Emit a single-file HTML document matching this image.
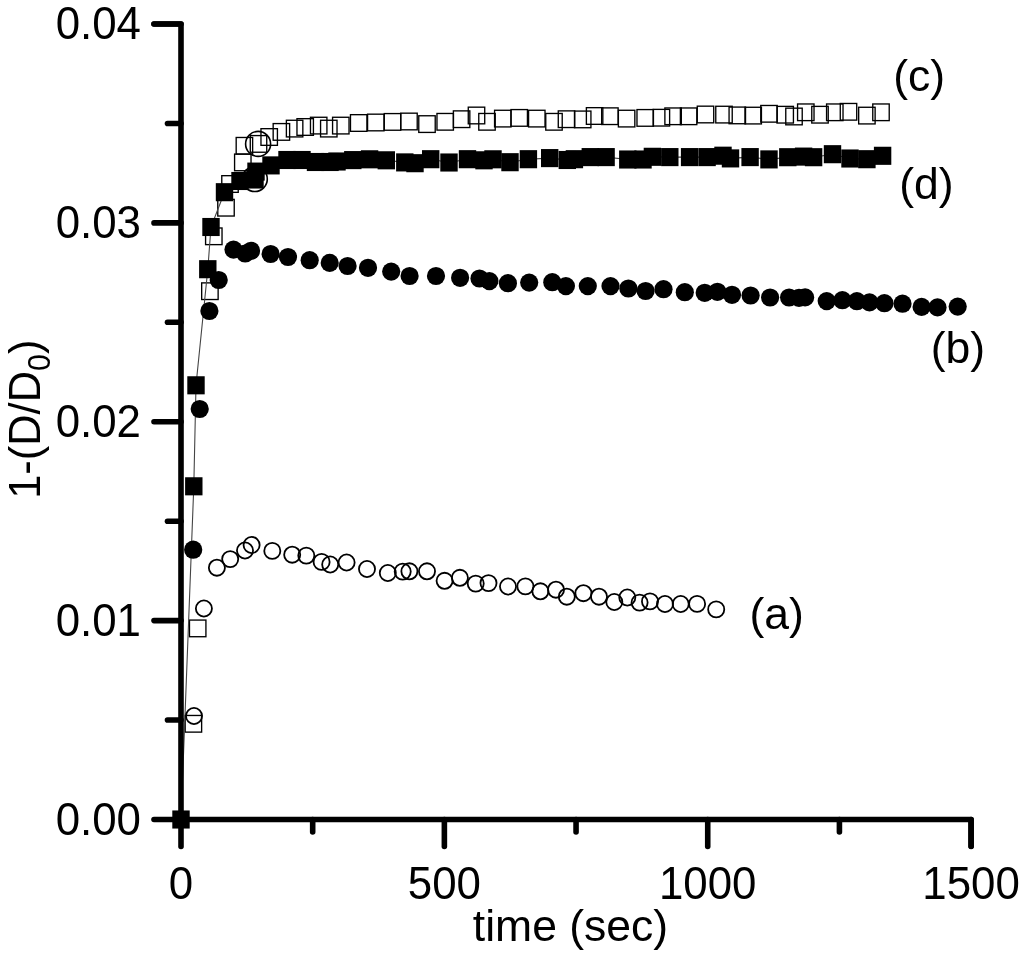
<!DOCTYPE html><html><head><meta charset="utf-8"><style>html,body{margin:0;padding:0;background:#fff;}svg{display:block;will-change:transform;}text{font-family:"Liberation Sans",sans-serif;fill:#000;}</style></head><body>
<svg width="1024" height="953" viewBox="0 0 1024 953">
<rect width="1024" height="953" fill="#fff"/>
<g fill="none" stroke="#000" stroke-width="1.35">
<rect x="185.18" y="715.47" width="16.45" height="16.65"/>
<rect x="189.47" y="620.07" width="16.45" height="16.65"/>
<rect x="201.68" y="282.88" width="16.45" height="16.65"/>
<rect x="205.58" y="227.98" width="16.45" height="16.65"/>
<rect x="217.78" y="199.38" width="16.45" height="16.65"/>
<rect x="221.78" y="175.68" width="16.45" height="16.65"/>
<rect x="234.58" y="154.08" width="16.45" height="16.65"/>
<rect x="236.18" y="137.48" width="16.45" height="16.65"/>
<rect x="250.28" y="135.58" width="16.45" height="16.65"/>
<rect x="260.97" y="128.68" width="16.45" height="16.65"/>
<rect x="273.17" y="123.58" width="16.45" height="16.65"/>
<rect x="286.38" y="120.27" width="16.45" height="16.65"/>
<rect x="296.97" y="118.67" width="16.45" height="16.65"/>
<rect x="310.47" y="117.27" width="16.45" height="16.65"/>
<rect x="320.57" y="120.27" width="16.45" height="16.65"/>
<rect x="332.57" y="117.27" width="16.45" height="16.65"/>
<rect x="350.47" y="114.67" width="16.45" height="16.65"/>
<rect x="367.57" y="114.17" width="16.45" height="16.65"/>
<rect x="384.27" y="113.58" width="16.45" height="16.65"/>
<rect x="400.77" y="113.17" width="16.45" height="16.65"/>
<rect x="418.77" y="115.77" width="16.45" height="16.65"/>
<rect x="436.97" y="113.47" width="16.45" height="16.65"/>
<rect x="453.38" y="110.88" width="16.45" height="16.65"/>
<rect x="468.27" y="107.17" width="16.45" height="16.65"/>
<rect x="478.77" y="113.47" width="16.45" height="16.65"/>
<rect x="494.57" y="110.27" width="16.45" height="16.65"/>
<rect x="510.98" y="109.58" width="16.45" height="16.65"/>
<rect x="528.57" y="110.27" width="16.45" height="16.65"/>
<rect x="545.77" y="113.47" width="16.45" height="16.65"/>
<rect x="558.27" y="110.88" width="16.45" height="16.65"/>
<rect x="574.48" y="111.08" width="16.45" height="16.65"/>
<rect x="586.38" y="107.67" width="16.45" height="16.65"/>
<rect x="601.67" y="107.88" width="16.45" height="16.65"/>
<rect x="618.38" y="110.27" width="16.45" height="16.65"/>
<rect x="636.98" y="109.58" width="16.45" height="16.65"/>
<rect x="653.17" y="109.38" width="16.45" height="16.65"/>
<rect x="664.88" y="107.97" width="16.45" height="16.65"/>
<rect x="680.38" y="107.97" width="16.45" height="16.65"/>
<rect x="697.27" y="106.17" width="16.45" height="16.65"/>
<rect x="715.77" y="106.27" width="16.45" height="16.65"/>
<rect x="729.07" y="107.08" width="16.45" height="16.65"/>
<rect x="744.98" y="107.27" width="16.45" height="16.65"/>
<rect x="760.77" y="105.47" width="16.45" height="16.65"/>
<rect x="776.98" y="106.38" width="16.45" height="16.65"/>
<rect x="785.77" y="108.17" width="16.45" height="16.65"/>
<rect x="797.57" y="103.97" width="16.45" height="16.65"/>
<rect x="811.77" y="106.38" width="16.45" height="16.65"/>
<rect x="826.57" y="103.97" width="16.45" height="16.65"/>
<rect x="840.27" y="103.47" width="16.45" height="16.65"/>
<rect x="858.67" y="107.27" width="16.45" height="16.65"/>
<rect x="872.77" y="103.97" width="16.45" height="16.65"/>
</g>
<g fill="none" stroke="#000" stroke-width="1.60">
<circle cx="258.10" cy="143.90" r="12.50"/>
<circle cx="254.80" cy="179.00" r="12.50"/>
</g>
<polyline points="181.0,819.5 193.8,486.3 196.0,385.3 207.8,269.2 211.0,227.0 224.5,192.2 240.0,181.0 255.0,179.5 256.0,171.6 271.0,165.4 287.0,160.0 302.0,160.0 315.5,162.0 330.0,162.0 337.0,161.5 352.8,160.1 369.6,159.3 386.3,160.3 404.8,162.4 415.0,163.2 430.7,159.2 449.0,162.5 467.5,159.2 484.0,160.3 493.0,159.3 510.0,162.2 528.4,159.2 549.7,158.1 567.3,160.0 574.4,159.2 590.3,157.1 606.1,157.1 627.8,159.5 643.0,159.5 652.4,156.8 669.8,157.1 689.6,157.1 707.1,157.1 723.0,155.7 730.5,158.4 750.1,157.1 769.0,159.4 787.8,157.2 803.6,156.6 813.6,157.2 832.5,154.2 850.0,158.5 866.9,159.2 882.6,155.8" fill="none" stroke="#444" stroke-width="1.1"/>
<g fill="#000">
<rect x="172.30" y="810.45" width="17.40" height="18.10"/>
<rect x="185.10" y="477.25" width="17.40" height="18.10"/>
<rect x="187.30" y="376.25" width="17.40" height="18.10"/>
<rect x="199.10" y="260.15" width="17.40" height="18.10"/>
<rect x="202.30" y="217.95" width="17.40" height="18.10"/>
<rect x="215.80" y="183.15" width="17.40" height="18.10"/>
<rect x="231.30" y="171.95" width="17.40" height="18.10"/>
<rect x="246.30" y="170.45" width="17.40" height="18.10"/>
<rect x="247.30" y="162.55" width="17.40" height="18.10"/>
<rect x="262.30" y="156.35" width="17.40" height="18.10"/>
<rect x="278.30" y="150.95" width="17.40" height="18.10"/>
<rect x="293.30" y="150.95" width="17.40" height="18.10"/>
<rect x="306.80" y="152.95" width="17.40" height="18.10"/>
<rect x="321.30" y="152.95" width="17.40" height="18.10"/>
<rect x="328.30" y="152.45" width="17.40" height="18.10"/>
<rect x="344.10" y="151.05" width="17.40" height="18.10"/>
<rect x="360.90" y="150.25" width="17.40" height="18.10"/>
<rect x="377.60" y="151.25" width="17.40" height="18.10"/>
<rect x="396.10" y="153.35" width="17.40" height="18.10"/>
<rect x="406.30" y="154.15" width="17.40" height="18.10"/>
<rect x="422.00" y="150.15" width="17.40" height="18.10"/>
<rect x="440.30" y="153.45" width="17.40" height="18.10"/>
<rect x="458.80" y="150.15" width="17.40" height="18.10"/>
<rect x="475.30" y="151.25" width="17.40" height="18.10"/>
<rect x="484.30" y="150.25" width="17.40" height="18.10"/>
<rect x="501.30" y="153.15" width="17.40" height="18.10"/>
<rect x="519.70" y="150.15" width="17.40" height="18.10"/>
<rect x="541.00" y="149.05" width="17.40" height="18.10"/>
<rect x="558.60" y="150.95" width="17.40" height="18.10"/>
<rect x="565.70" y="150.15" width="17.40" height="18.10"/>
<rect x="581.60" y="148.05" width="17.40" height="18.10"/>
<rect x="597.40" y="148.05" width="17.40" height="18.10"/>
<rect x="619.10" y="150.45" width="17.40" height="18.10"/>
<rect x="634.30" y="150.45" width="17.40" height="18.10"/>
<rect x="643.70" y="147.75" width="17.40" height="18.10"/>
<rect x="661.10" y="148.05" width="17.40" height="18.10"/>
<rect x="680.90" y="148.05" width="17.40" height="18.10"/>
<rect x="698.40" y="148.05" width="17.40" height="18.10"/>
<rect x="714.30" y="146.65" width="17.40" height="18.10"/>
<rect x="721.80" y="149.35" width="17.40" height="18.10"/>
<rect x="741.40" y="148.05" width="17.40" height="18.10"/>
<rect x="760.30" y="150.35" width="17.40" height="18.10"/>
<rect x="779.10" y="148.15" width="17.40" height="18.10"/>
<rect x="794.90" y="147.55" width="17.40" height="18.10"/>
<rect x="804.90" y="148.15" width="17.40" height="18.10"/>
<rect x="823.80" y="145.15" width="17.40" height="18.10"/>
<rect x="841.30" y="149.45" width="17.40" height="18.10"/>
<rect x="858.20" y="150.15" width="17.40" height="18.10"/>
<rect x="873.90" y="146.75" width="17.40" height="18.10"/>
</g>
<g fill="#000">
<circle cx="193.20" cy="549.70" r="9.10"/>
<circle cx="199.70" cy="409.00" r="9.10"/>
<circle cx="209.40" cy="311.00" r="9.10"/>
<circle cx="218.70" cy="280.00" r="9.10"/>
<circle cx="233.50" cy="249.60" r="9.10"/>
<circle cx="245.20" cy="253.50" r="9.10"/>
<circle cx="251.00" cy="250.80" r="9.10"/>
<circle cx="270.60" cy="254.00" r="9.10"/>
<circle cx="288.00" cy="257.00" r="9.10"/>
<circle cx="309.70" cy="260.20" r="9.10"/>
<circle cx="329.70" cy="262.90" r="9.10"/>
<circle cx="347.60" cy="266.00" r="9.10"/>
<circle cx="368.00" cy="267.80" r="9.10"/>
<circle cx="391.20" cy="271.60" r="9.10"/>
<circle cx="409.60" cy="276.00" r="9.10"/>
<circle cx="436.00" cy="276.00" r="9.10"/>
<circle cx="460.10" cy="277.80" r="9.10"/>
<circle cx="479.50" cy="278.50" r="9.10"/>
<circle cx="489.40" cy="281.10" r="9.10"/>
<circle cx="507.90" cy="283.20" r="9.10"/>
<circle cx="529.20" cy="282.60" r="9.10"/>
<circle cx="552.30" cy="282.20" r="9.10"/>
<circle cx="565.90" cy="286.10" r="9.10"/>
<circle cx="587.80" cy="286.10" r="9.10"/>
<circle cx="610.50" cy="286.10" r="9.10"/>
<circle cx="628.40" cy="288.50" r="9.10"/>
<circle cx="645.60" cy="291.00" r="9.10"/>
<circle cx="663.50" cy="289.20" r="9.10"/>
<circle cx="684.80" cy="292.20" r="9.10"/>
<circle cx="704.70" cy="292.80" r="9.10"/>
<circle cx="717.40" cy="291.80" r="9.10"/>
<circle cx="732.00" cy="294.80" r="9.10"/>
<circle cx="750.60" cy="295.50" r="9.10"/>
<circle cx="770.10" cy="297.50" r="9.10"/>
<circle cx="789.10" cy="297.50" r="9.10"/>
<circle cx="799.00" cy="297.80" r="9.10"/>
<circle cx="805.10" cy="297.40" r="9.10"/>
<circle cx="826.70" cy="301.10" r="9.10"/>
<circle cx="842.40" cy="300.20" r="9.10"/>
<circle cx="856.90" cy="301.20" r="9.10"/>
<circle cx="869.50" cy="302.40" r="9.10"/>
<circle cx="884.40" cy="303.20" r="9.10"/>
<circle cx="902.50" cy="303.70" r="9.10"/>
<circle cx="921.60" cy="306.90" r="9.10"/>
<circle cx="937.50" cy="307.40" r="9.10"/>
<circle cx="957.70" cy="306.60" r="9.10"/>
</g>
<g fill="none" stroke="#000" stroke-width="1.80">
<circle cx="194.00" cy="716.00" r="8.05"/>
<circle cx="203.90" cy="608.50" r="8.05"/>
<circle cx="216.90" cy="567.70" r="8.05"/>
<circle cx="230.20" cy="559.10" r="8.05"/>
<circle cx="245.00" cy="550.50" r="8.05"/>
<circle cx="251.60" cy="545.00" r="8.05"/>
<circle cx="272.30" cy="550.90" r="8.05"/>
<circle cx="292.20" cy="554.70" r="8.05"/>
<circle cx="306.30" cy="555.60" r="8.05"/>
<circle cx="321.60" cy="561.90" r="8.05"/>
<circle cx="330.20" cy="564.50" r="8.05"/>
<circle cx="346.60" cy="562.50" r="8.05"/>
<circle cx="367.00" cy="569.00" r="8.05"/>
<circle cx="387.80" cy="573.00" r="8.05"/>
<circle cx="402.70" cy="571.60" r="8.05"/>
<circle cx="409.40" cy="571.30" r="8.05"/>
<circle cx="427.00" cy="571.30" r="8.05"/>
<circle cx="444.60" cy="580.80" r="8.05"/>
<circle cx="459.90" cy="577.80" r="8.05"/>
<circle cx="475.70" cy="583.60" r="8.05"/>
<circle cx="488.50" cy="583.10" r="8.05"/>
<circle cx="508.00" cy="586.50" r="8.05"/>
<circle cx="525.40" cy="586.40" r="8.05"/>
<circle cx="540.40" cy="591.30" r="8.05"/>
<circle cx="556.00" cy="589.70" r="8.05"/>
<circle cx="566.80" cy="596.70" r="8.05"/>
<circle cx="583.40" cy="593.20" r="8.05"/>
<circle cx="599.00" cy="596.70" r="8.05"/>
<circle cx="614.30" cy="602.00" r="8.05"/>
<circle cx="627.30" cy="597.50" r="8.05"/>
<circle cx="639.60" cy="602.60" r="8.05"/>
<circle cx="650.00" cy="601.40" r="8.05"/>
<circle cx="665.00" cy="604.00" r="8.05"/>
<circle cx="680.70" cy="604.00" r="8.05"/>
<circle cx="697.10" cy="603.90" r="8.05"/>
<circle cx="716.20" cy="609.40" r="8.05"/>
</g>
<g stroke="#000" stroke-width="5.6" fill="none" stroke-linecap="round" stroke-linejoin="round">
<path d="M154.0,24.0 H181.0 V819.5 H971.1 V846.3"/>
<line x1="154.0" y1="819.50" x2="181.0" y2="819.50"/>
<line x1="167.5" y1="720.06" x2="181.0" y2="720.06"/>
<line x1="154.0" y1="620.62" x2="181.0" y2="620.62"/>
<line x1="167.5" y1="521.19" x2="181.0" y2="521.19"/>
<line x1="154.0" y1="421.75" x2="181.0" y2="421.75"/>
<line x1="167.5" y1="322.31" x2="181.0" y2="322.31"/>
<line x1="154.0" y1="222.88" x2="181.0" y2="222.88"/>
<line x1="167.5" y1="123.44" x2="181.0" y2="123.44"/>
<line x1="154.0" y1="24.00" x2="181.0" y2="24.00"/>
<line x1="181.00" y1="819.5" x2="181.00" y2="846.5"/>
<line x1="312.68" y1="819.5" x2="312.68" y2="832.0"/>
<line x1="444.37" y1="819.5" x2="444.37" y2="846.5"/>
<line x1="576.05" y1="819.5" x2="576.05" y2="832.0"/>
<line x1="707.73" y1="819.5" x2="707.73" y2="846.5"/>
<line x1="839.42" y1="819.5" x2="839.42" y2="832.0"/>
<line x1="971.10" y1="819.5" x2="971.10" y2="846.5"/>
</g>
<text transform="translate(141,834.80) scale(0.985,1.050)" font-size="44.5" text-anchor="end">0.00</text>
<text transform="translate(141,635.92) scale(0.985,1.050)" font-size="44.5" text-anchor="end">0.01</text>
<text transform="translate(141,437.05) scale(0.985,1.050)" font-size="44.5" text-anchor="end">0.02</text>
<text transform="translate(141,238.18) scale(0.985,1.050)" font-size="44.5" text-anchor="end">0.03</text>
<text transform="translate(141,39.30) scale(0.985,1.050)" font-size="44.5" text-anchor="end">0.04</text>
<text transform="translate(181.00,899.4) scale(0.985,1.050)" font-size="44.5" text-anchor="middle">0</text>
<text transform="translate(444.37,899.4) scale(0.985,1.050)" font-size="44.5" text-anchor="middle">500</text>
<text transform="translate(707.73,899.4) scale(0.985,1.050)" font-size="44.5" text-anchor="middle">1000</text>
<text transform="translate(971.10,899.4) scale(0.985,1.050)" font-size="44.5" text-anchor="middle">1500</text>
<text x="570.5" y="940.5" font-size="44.5" text-anchor="middle">time (sec)</text>
<text transform="translate(39.6,498.8) rotate(-90) scale(0.976,1)" font-size="44.5">1-(D/D<tspan font-size="31" dy="10">0</tspan><tspan dy="-10">)</tspan></text>
<text x="893.3" y="91.3" font-size="44.5">(c)</text>
<text x="899.2" y="199.4" font-size="44.5">(d)</text>
<text x="930.8" y="362.6" font-size="44.5">(b)</text>
<text x="749.4" y="629.3" font-size="44.5">(a)</text>
</svg></body></html>
